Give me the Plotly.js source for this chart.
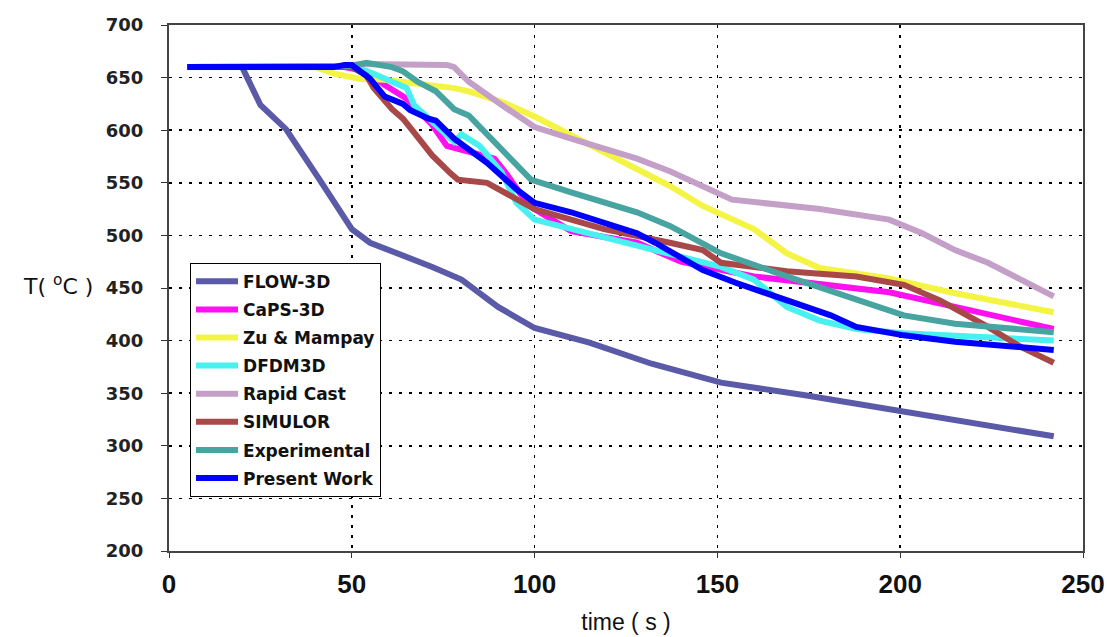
<!DOCTYPE html>
<html>
<head>
<meta charset="utf-8">
<script src="https://cdn.plot.ly/plotly-3.0.1.min.js"></script>
<style>html,body{margin:0;padding:0;background:#fff;}#chart{width:1107px;height:637px;}</style>
</head>
<body>
<div id="chart"></div>
<script>
// ---- data ----
const seriesNames = ["FLOW-3D","CaPS-3D","Zu & Mampay","DFDM3D","Rapid Cast","SIMULOR","Experimental","Present Work"];

const flowX = [5,20,25,32,41,50,55,64,72,80,90,100,115,132,151,174,201,220,242];
const flowY = [660,660,624,601,554,506,493,481,470,458,432,412,398,378,360,348,332,322,309];

const capsX = [5,48,54,59,65,72,76,82,89,92,96,100,110,128,140,160,178,197,215,242];
const capsY = [660,660,656,643,630,605,585,579,573,560,540,525,504,493,475,461,453,446,432,411];

const zuX = [5,40,45,52,59,64,73,78,82,91,100,110,119,128,137,146,160,169,178,197,215,242];
const zuY = [660,660,654,649,648,646,641,640,637,627,613,595,579,563,547,528,506,483,469,459,445,427];

const dfdmX = [5,50,55,59,65,67,73,78,80,85,91,95,100,110,119,137,151,160,169,178,188,201,215,242];
const dfdmY = [660,661,655,649,640,624,605,589,596,585,560,531,515,506,499,483,470,458,432,419,411,407,405,400];

const rapidX = [5,47,53,76,78,82,91,100,110,119,128,137,146,154,178,197,206,215,224,242];
const rapidY = [660,661,663,662,660,646,624,603,592,582,573,561,547,534,525,515,502,486,474,442];

const simX = [5,50,54,56,61,64,67,72,77,79,87,94,100,110,119,137,146,151,169,188,201,211,224,233,242];
const simY = [660,660,652,640,620,611,598,576,559,553,550,537,525,515,506,493,486,474,466,461,453,438,413,394,379];

const expX = [5,50,54,61,64,68,73,78,82,91,99,110,119,128,137,146,151,169,188,201,215,242];
const expY = [660,661,664,660,656,646,637,620,614,582,553,541,531,522,509,493,483,461,439,424,416,408];

const presX = [5,45,48,50,55,59,64,66,71,73,78,87,95,100,110,128,133,146,155,169,181,188,201,215,242];
const presY = [660,660,662,662,649,632,625,619,611,609,592,569,544,531,522,502,493,467,455,439,424,413,405,399,391];

const xTicks = [0,50,100,150,200,250];
const yTicks = [200,250,300,350,400,450,500,550,600,650,700];

// ---- styling ----
const colors = ["#5a5aa8","#ff10f0","#f4f444","#48f0f0","#c4a0c8","#a84848","#48a4a0","#0000ff"];
const widths = [6,6,6,6,6,6,6,6];
const xs = [flowX,capsX,zuX,dfdmX,rapidX,simX,expX,presX];
const ys = [flowY,capsY,zuY,dfdmY,rapidY,simY,expY,presY];

const traces = seriesNames.map((n,i)=>({
  type:'scatter', mode:'lines', name:n, x:xs[i], y:ys[i], legendgroup:'g'+i,
  line:{color:colors[i], width:widths[i]}
}));

const layout = {
  width:1107, height:637,
  margin:{l:169, r:24, t:25, b:86},
  paper_bgcolor:'#fff', plot_bgcolor:'#fff',
  showlegend:true,
  legend:{x:0.023, y:0.548, xanchor:'left', yanchor:'top',
    bgcolor:'#fff', bordercolor:'#000', borderwidth:1,
    font:{family:'"DejaVu Sans", sans-serif', size:17, color:'#111', weight:'bold'},
    tracegroupgap:3, itemwidth:42},
  xaxis:{range:[0,250], tickvals:xTicks, ticks:'outside', ticklen:5, tickcolor:'#333',
    showline:true, linecolor:'#444', linewidth:2, mirror:true,
    showgrid:true, gridcolor:'#000', gridwidth:1.5, griddash:'3px,7px',
    zeroline:false,
    tickfont:{family:'"Liberation Sans Narrow", "Liberation Sans", Arial, sans-serif', size:26, color:'#111', weight:'bold'},
    ticklabelstandoff:4,
    title:{text:'time ( s )', font:{family:'"Liberation Sans Narrow", "Liberation Sans", Arial, sans-serif', size:23, color:'#111'}, standoff:16}},
  yaxis:{range:[200,700], tickvals:yTicks, ticks:'outside', ticklen:6, tickcolor:'#333',
    showline:true, linecolor:'#444', linewidth:2, mirror:true,
    showgrid:true, gridcolor:'#000', gridwidth:1.5, griddash:'3px,7px',
    zeroline:false,
    tickfont:{family:'"DejaVu Sans", sans-serif', size:18, color:'#222', weight:'bold'},
    ticklabelstandoff:14},
  annotations:[{xref:'paper', yref:'paper', x:-0.121, y:0.505, xanchor:'center', yanchor:'middle',
    text:'T( <sup>o</sup>C )', showarrow:false,
    font:{family:'"DejaVu Sans", sans-serif', size:22, color:'#111'}}]
};

Plotly.newPlot('chart', traces, layout, {displayModeBar:false, staticPlot:true});
</script>
</body>
</html>
